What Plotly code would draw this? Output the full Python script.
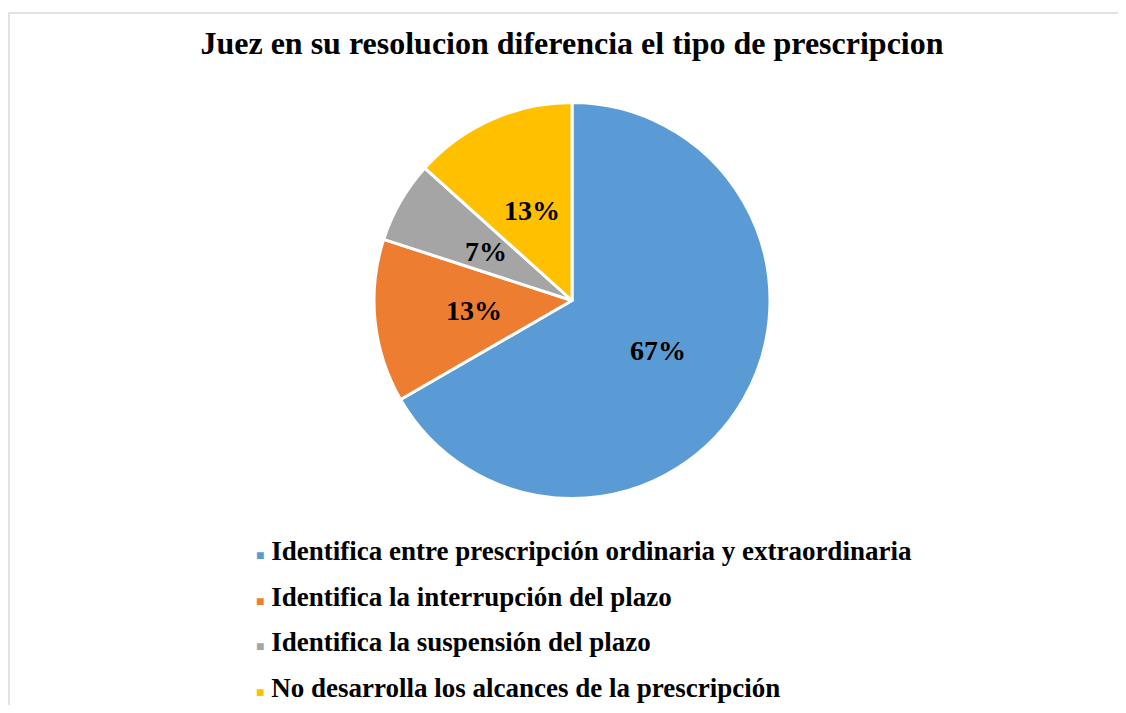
import math
import plotly.graph_objects as go

# respuestas por categoria (15 expedientes)
categorias = [
    "Identifica entre prescripción ordinaria y extraordinaria",
    "Identifica la interrupción del plazo",
    "Identifica la suspensión del plazo",
    "No desarrolla los alcances de la prescripción",
]
cantidades = [10, 2, 1, 2]
colores = ["#5B9BD5", "#ED7D31", "#A5A5A5", "#FFC000"]

# la pagina tiene 8px de margen, la figura ocupa el resto de la ventana
W, H = 1110, 697
cx, cy, radio = 564, 292.5, 198

fig = go.Figure()
fig.add_trace(go.Pie(
    labels=categorias,
    values=cantidades,
    sort=False,
    direction="clockwise",
    rotation=0,
    marker=dict(colors=colores, line=dict(color="white", width=3)),
    textinfo="none",
    showlegend=False,
    hoverinfo="label+value+percent",
    domain=dict(x=[(cx - radio) / W, (cx + radio) / W],
                y=[1 - (cy + radio) / H, 1 - (cy - radio) / H]),
))

# etiquetas de porcentaje a media distancia del centro, como en Excel
total = sum(cantidades)
acum = 0
for v in cantidades:
    ang = math.radians((acum + v / 2) / total * 360)
    acum += v
    r = radio * 0.5
    fig.add_annotation(
        x=(cx + r * math.sin(ang)) / W, y=1 - (cy - r * math.cos(ang)) / H,
        xref="paper", yref="paper", showarrow=False,
        xanchor="center", yanchor="middle",
        text=f"{round(v / total * 100)}%",
        font=dict(family="Liberation Serif", size=28, color="black", weight="bold"),
    )

# leyenda dibujada a mano para respetar el espaciado original
for i, (cat, col) in enumerate(zip(categorias, colores)):
    y_px = 543 + i * 45.7
    fig.add_annotation(
        x=246 / W, y=1 - y_px / H, xref="paper", yref="paper",
        xanchor="left", yanchor="middle", showarrow=False,
        text=f"<span style='color:{col};font-size:14px'>■</span> {cat}",
        font=dict(family="Liberation Serif", size=27, color="black", weight="bold"),
    )

fig.update_layout(
    width=W, height=H,
    margin=dict(l=0, r=0, t=0, b=0),
    paper_bgcolor="white",
    title=dict(
        text="<b>Juez en su resolucion diferencia el tipo de prescripcion</b>",
        x=564 / W, xanchor="center", y=1 - 35 / H, yanchor="middle",
        font=dict(family="Liberation Serif", size=32, color="black"),
    ),
    shapes=[dict(type="rect", xref="paper", yref="paper",
                 x0=1 / W, x1=1.02, y0=-0.02, y1=1 - 5 / H,
                 line=dict(color="#D9D9D9", width=1.5))],
)

fig.write_html("out.html")
